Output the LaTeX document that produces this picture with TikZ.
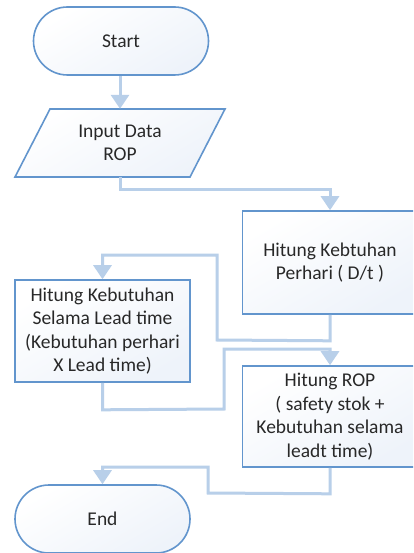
\documentclass[tikz,border=0pt]{standalone}
\usepackage{fontspec}
\setmainfont{Carlito}
\usetikzlibrary{shapes.misc,arrows.meta}

\definecolor{edgeblue}{RGB}{98,149,205}
\definecolor{flowblue}{RGB}{184,207,233}
\definecolor{textgray}{RGB}{40,40,40}
\definecolor{paleblue}{RGB}{238,243,250}

\tikzset{
  lbl/.style={font=\fontsize{19.5}{23.5}\selectfont, text=textgray, align=center},
  terminal/.style={lbl, rounded rectangle, draw=edgeblue, line width=1.6pt,
    top color=white, bottom color=paleblue, shading angle=30,
    minimum width=175pt, minimum height=68pt, inner sep=0pt},
  procbox/.style={lbl, rectangle, draw=edgeblue, line width=1.6pt,
    top color=white, bottom color=paleblue, shading angle=30,
    minimum width=175pt, inner sep=0pt},
  flow/.style={draw=flowblue, line width=3pt,
    -{Triangle[width=18pt,length=14pt]}}
}

\begin{document}
\begin{tikzpicture}[x=1pt,y=-1pt]
\useasboundingbox (0,0) rectangle (413,553);
\clip (0,0) rectangle (413,553);
\fill[white] (0,0) rectangle (413,553);

% input / output parallelogram
\shade[top color=white, bottom color=paleblue, shading angle=30,
  draw=edgeblue, line width=1.6pt]
  (50,109) -- (225,109) -- (190,177) -- (15,177) -- cycle;

\node[terminal] (start) at (121,41) {Start};
\node[lbl, minimum width=140pt, minimum height=68pt, inner sep=0pt]
  (input) at (120,143) {Input Data\\ROP};
\node[procbox, minimum height=103pt] (daily) at (330,262.5)
  {Hitung Kebtuhan\\Perhari ( D/t )};
\node[procbox, minimum height=102pt] (lead) at (102.5,331)
  {Hitung Kebutuhan\\Selama Lead time\\(Kebutuhan perhari\\X Lead time)};
\node[procbox, minimum height=101pt] (rop) at (330,416.5)
  {Hitung ROP\\( safety stok +\\Kebutuhan selama\\leadt time)};
\node[terminal] (end) at (102.5,519) {End};

% connectors
\draw[flow] (start.south -| input.north) -- (input.north);
\draw[flow] (input.south) -- ++(0,12) -| (daily.north);
\draw[flow] (daily.south) -- ++(0,26) -- (217,340) -- (217,255) -| (lead.north);
\draw[flow] (lead.south) -- ++(0,27) -- (224,409) -- (224,349) -| (rop.north);
\draw[flow] (rop.south) -- ++(0,26) -- (208,493) -- (208,467) -| (end.north);
\end{tikzpicture}
\end{document}
